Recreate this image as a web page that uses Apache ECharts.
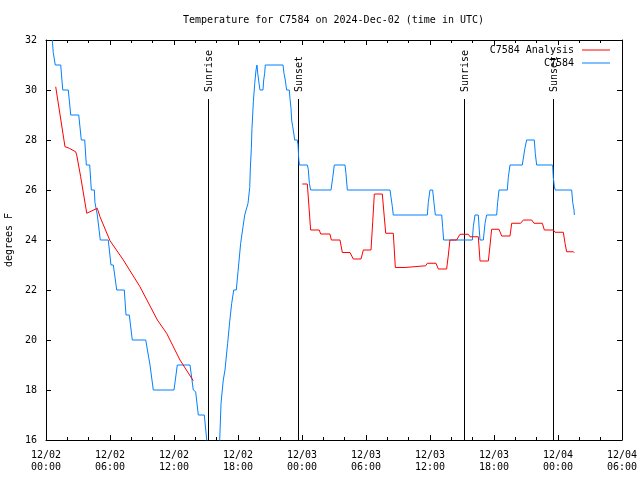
<!DOCTYPE html>
<html><head><meta charset="utf-8">
<script src="https://cdn.jsdelivr.net/npm/echarts@6/dist/echarts.min.js"></script>
<style>html,body{margin:0;padding:0;background:#fff}#c{width:640px;height:480px}</style>
</head><body><div id="c"></div>
<script>
// Hours since 2024-12-02 00:00 UTC
const xTickLabels = ['12/02\n00:00','12/02\n06:00','12/02\n12:00','12/02\n18:00','12/03\n00:00','12/03\n06:00','12/03\n12:00','12/03\n18:00','12/04\n00:00','12/04\n06:00'];
const obsHours = [0.59,0.68,0.87,1.38,1.57,2.09,2.32,3.07,3.31,3.63,3.78,4.10,4.25,4.53,4.59,4.81,5.09,5.84,6.09,6.31,6.63,7.34,7.50,7.81,8.09,9.35,9.75,9.82,10.06,12.0,12.31,13.5,13.81,14.03,14.28,14.84,15.07,15.25,16.2,16.41,16.62,16.78,17.03,17.22,17.41,17.6,17.84,18.0,18.25,18.47,18.63,18.78,18.94,19.1,19.15,19.25,19.31,19.44,19.57,19.69,19.78,19.85,19.97,20.06,20.34,20.41,20.5,20.56,22.22,22.31,22.43,22.56,22.81,22.87,22.97,23.03,23.13,23.25,23.31,23.56,23.63,23.69,23.75,24.5,24.59,24.69,24.81,26.72,26.88,27.03,28.03,28.12,28.25,32.25,32.34,32.47,32.56,35.75,35.84,36.0,36.25,36.37,36.5,37.1,37.19,37.28,39.97,40.06,40.22,40.53,40.62,40.69,41.0,41.16,41.31,42.25,42.34,42.47,43.25,43.34,43.5,44.65,44.9,45.06,45.78,45.87,46.0,47.5,47.56,47.66,47.75,49.28,49.38,49.5,49.53];
const obsTemps = [32,31.5,31,31,30,30,29,29,28,28,27,27,26,26,25.5,25,24,24,23,23,22,22,21,21,20,20,19,19,18,18,19,19,18,17.93,17,17,16,15,15,17.47,18.4,18.8,19.87,20.73,21.47,22,22,22.73,23.87,24.53,25,25.04,25.47,26.1,26.8,27.67,28.47,29.53,30.27,30.8,31,30.67,30.27,30,30,30.4,30.67,31,31,30.67,30.4,30,30,29.67,29.27,28.8,28.53,28.2,28,28,27.8,27.27,27,27,26.83,26.27,26,26,26.5,27,27,26.67,26,26,25.73,25.33,25,25,25.5,26,26,25.5,25,25,24.5,24,24,24.53,25,25,24.4,24,24,24.67,25,25,25.5,26,26,26.5,27,27,27.67,28,28,27.47,27,27,26.5,26.13,26,26,25.5,25.2,25];
const anaHours = [0.91,1.78,2.18,2.78,2.88,3.25,3.82,4.81,5.06,6.0,7.25,8.81,10.44,11.31,12.56,13.81,14.0,24.03,24.5,24.81,25.62,25.75,26.62,26.75,27.56,27.78,28.5,28.81,29.53,29.75,30.47,30.63,30.78,31.53,31.69,31.85,32.56,32.75,33.66,33.75,35.6,35.75,36.56,36.78,37.56,37.72,37.87,38.5,38.81,39.59,39.75,40.53,40.69,41.47,41.63,41.78,42.47,42.72,43.5,43.66,44.5,44.75,45.53,45.75,46.53,46.72,47.56,47.72,48.5,48.66,48.81,49.44,49.53];
const anaTemps = [30.13,27.73,27.67,27.53,27.4,26.53,25.07,25.27,24.93,23.97,23.2,22.13,20.8,20.27,19.2,18.37,null,26.24,26.24,24.4,24.4,24.24,24.24,24.0,24.0,23.5,23.5,23.24,23.24,23.6,23.6,24.73,25.84,25.84,25.04,24.27,24.27,22.9,22.9,22.97,22.97,23.07,23.07,22.84,22.84,23.4,24.0,24.0,24.23,24.23,24.13,24.13,23.16,23.16,23.8,24.43,24.43,24.16,24.16,24.67,24.67,24.8,24.8,24.67,24.67,24.4,24.4,24.31,24.31,23.87,23.53,23.53,23.49];
const sunHours = [15.2, 23.64, 39.21, 47.55];
const sunLabels = ['Sunrise','Sunset','Sunrise','Sunset'];

const FONT = '"DejaVu Sans Mono", "Liberation Mono", monospace';
const obsData = obsHours.map((h,i)=>[h, obsTemps[i]]);
const anaData = anaHours.map((h,i)=>[h, anaTemps[i]===null ? '-' : anaTemps[i]]);
const sunData = sunHours.map(h=>[h, 16]);

const chart = echarts.init(document.getElementById('c'), null, {renderer:'canvas'});
const xCommon = {
  type:'value', min:0, max:54, interval:6,
  axisLine:{show:true, onZero:false, lineStyle:{color:'#000', width:1}},
  axisTick:{show:true, inside:true, length:5, lineStyle:{color:'#000'}},
  minorTick:{show:true, splitNumber:3, length:3, lineStyle:{color:'#000'}},
  splitLine:{show:false}, minorSplitLine:{show:false}
};
const yCommon = {
  type:'value', min:16, max:32, interval:2,
  axisLine:{show:true, onZero:false, lineStyle:{color:'#000', width:1}},
  axisTick:{show:true, inside:true, length:5, lineStyle:{color:'#000'}},
  splitLine:{show:false}
};
chart.setOption({
  animation:false,
  backgroundColor:'#fff',
  title:{text:'Temperature for C7584 on 2024-Dec-02 (time in UTC)', left:183, top:15,
    textStyle:{fontFamily:FONT, fontSize:10, fontWeight:'normal', color:'#000'}, padding:0},
  legend:{data:['C7584 Analysis','C7584'], orient:'vertical', right:30, top:44, align:'right',
    icon:'rect', itemWidth:28, itemHeight:1, itemGap:1, padding:0, selectedMode:false,
    textStyle:{fontFamily:FONT, fontSize:10, color:'#000', lineHeight:12, padding:[0,3,0,0]}},
  grid:{left:46, right:18, top:40, bottom:40, containLabel:false, outerBoundsMode:'none'},
  xAxis:[
    Object.assign({}, xCommon, {position:'bottom',
      axisLabel:{show:true, margin:9, color:'#000', fontFamily:FONT, fontSize:10, lineHeight:12,
        formatter:function(v){ return xTickLabels[Math.round(v/6)] || ''; }}}),
    Object.assign({}, xCommon, {position:'top', axisLabel:{show:false}})
  ],
  yAxis:[
    Object.assign({}, yCommon, {position:'left', name:'degrees F', nameLocation:'middle', nameGap:31,
      nameTextStyle:{fontFamily:FONT, fontSize:10, color:'#000'},
      axisLabel:{show:true, margin:9, color:'#000', fontFamily:FONT, fontSize:10}}),
    Object.assign({}, yCommon, {position:'right', axisLabel:{show:false}})
  ],
  series:[
    {name:'Sun', type:'custom', xAxisIndex:0, yAxisIndex:0, data:sunData, encode:{x:0,y:1}, silent:true, z:1,
      renderItem:function(params, api){
        const cs = params.coordSys;
        const x = Math.round(api.coord([api.value(0), 16])[0]) + 0.5;
        const y0 = cs.y + 59, y1 = cs.y + cs.height;
        return {type:'group', children:[
          {type:'line', shape:{x1:x, y1:y0, x2:x, y2:y1}, style:{stroke:'#000', lineWidth:1}},
          {type:'text', x:x+1, y:y0-7, rotation:Math.PI/2,
            style:{text:sunLabels[params.dataIndex], font:'10px "DejaVu Sans Mono"', fill:'#000', align:'left', verticalAlign:'middle'}}
        ]};
      }},
    {name:'C7584 Analysis', type:'line', data:anaData, showSymbol:false, symbol:'none', connectNulls:false,
      color:'#ff0000', lineStyle:{color:'#ff0000', width:1}, z:3},
    {name:'C7584', type:'line', data:obsData, showSymbol:false, symbol:'none',
      color:'#0080ff', lineStyle:{color:'#0080ff', width:1}, z:2}
  ]
});
</script>
</body></html>
